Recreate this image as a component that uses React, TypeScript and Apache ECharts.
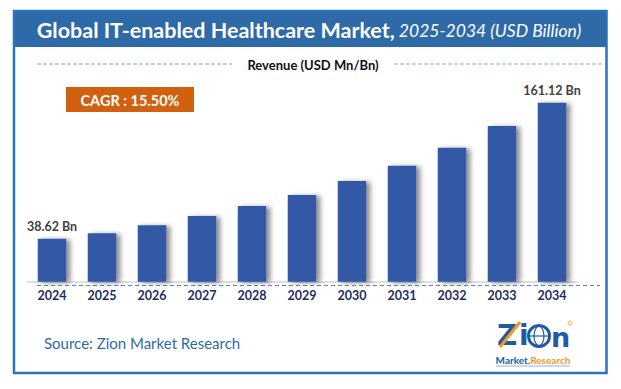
import React, { useEffect, useRef } from "react";
import * as echarts from "echarts";

const years = ["2024", "2025", "2026", "2027", "2028", "2029", "2030", "2031", "2032", "2033", "2034"];
const revenue = [38.62, 43.6, 50.8, 59.2, 68.2, 78.1, 90.7, 104.5, 120.7, 140.3, 161.12];
const labelledIndexes = [0, 10];
const titleMain = "Global IT-enabled Healthcare Market,";
const titleSub = " 2025-2034 (USD Billion)";
const legendText = "Revenue (USD Mn/Bn)";
const cagrText = "CAGR : 15.50%";
const sourceText = "Source: Zion Market Research";

const FONT = "Lato, 'Open Sans', sans-serif";
const LOGO_FONT = "'DejaVu Sans', sans-serif";

export default function App() {
  const ref = useRef<HTMLDivElement>(null);
  useEffect(() => {
    const chart = echarts.init(ref.current!, null, { renderer: "svg" });
    chart.setOption({
      animation: false,
      backgroundColor: "#ffffff",
      grid: { left: 27, width: 550, top: 93, bottom: 107.3, containLabel: false },
      xAxis: {
        type: "category",
        data: years,
        axisLine: { show: true, lineStyle: { color: "#d4d4d4", width: 1.5 } },
        axisTick: { show: false },
        axisLabel: { color: "#1f2d5e", fontWeight: "bold", fontSize: 12.5, fontFamily: FONT, margin: 7 },
      },
      yAxis: { type: "value", min: 0, max: 170, show: false, splitLine: { show: false } },
      series: [
        {
          type: "bar",
          data: revenue.map((v, i) => ({
            value: v,
            label: {
              show: labelledIndexes.includes(i),
              position: "top",
              distance: 6,
              formatter: (p: any) => `${p.value} Bn`,
              color: "#404040",
              fontWeight: "bold",
              fontSize: 12.5,
              fontFamily: FONT,
            },
          })),
          barWidth: 28.5,
          itemStyle: {
            color: "#3358a6",
            shadowColor: "rgba(0,0,0,0.45)",
            shadowBlur: 5,
            shadowOffsetX: 4,
            shadowOffsetY: 1,
          },
        },
      ],
      graphic: [
        { type: "rect", shape: { x: 14, y: 11, width: 592.5, height: 362 }, style: { fill: "none", stroke: "#2e72b8", lineWidth: 2.5 }, z: 10 },
        { type: "rect", shape: { x: 14, y: 11, width: 592.5, height: 36 }, style: { fill: "#2e6aa8" }, z: 9 },
        {
          type: "text",
          x: 309,
          y: 30,
          z: 11,
          style: {
            text: `{b|${titleMain}}{i|${titleSub}}`,
            align: "center",
            verticalAlign: "middle",
            rich: {
              b: { fill: "#ffffff", fontWeight: "bold", fontSize: 21.5, fontFamily: FONT },
              i: { fill: "#ffffff", fontStyle: "italic", fontSize: 17.5, fontFamily: FONT },
            },
          },
        },
        { type: "line", shape: { x1: 37, y1: 64, x2: 232, y2: 64 }, style: { stroke: "#8aa6d6", lineWidth: 1, lineDash: [4, 2] } },
        { type: "line", shape: { x1: 394, y1: 64, x2: 604, y2: 64 }, style: { stroke: "#8aa6d6", lineWidth: 1, lineDash: [4, 2] } },
        {
          type: "text",
          x: 313,
          y: 65,
          style: { text: legendText, align: "center", verticalAlign: "middle", fill: "#111111", fontWeight: "bold", fontSize: 13, fontFamily: FONT },
        },
        { type: "rect", shape: { x: 66, y: 87, width: 128, height: 25 }, style: { fill: "#d2610f" } },
        {
          type: "text",
          x: 130,
          y: 100,
          style: { text: cagrText, align: "center", verticalAlign: "middle", fill: "#ffffff", fontWeight: "bold", fontSize: 14.5, fontFamily: FONT },
        },
        { type: "line", shape: { x1: 37, y1: 285.5, x2: 600, y2: 285.5 }, style: { stroke: "#5b80c8", lineWidth: 1, lineDash: [4, 3] } },
        {
          type: "text",
          x: 44,
          y: 343,
          style: { text: sourceText, align: "left", verticalAlign: "middle", fill: "#2e6aa8", fontSize: 15, fontFamily: FONT },
        },
        // logo
        {
          type: "text",
          x: 497,
          y: 335,
          style: { text: "Z", align: "left", verticalAlign: "middle", fill: "#1e5aa8", fontWeight: 900, fontSize: 28, fontFamily: LOGO_FONT },
        },
        { type: "line", shape: { x1: 500, y1: 347, x2: 520, y2: 322 }, style: { stroke: "#f39a1e", lineWidth: 3 } },
        {
          type: "text",
          x: 519,
          y: 335,
          style: { text: "i", align: "left", verticalAlign: "middle", fill: "#1e5aa8", fontWeight: 900, fontSize: 28, fontFamily: LOGO_FONT },
        },
        { type: "circle", shape: { cx: 539, cy: 336, r: 10.5 }, style: { fill: "#ffffff", stroke: "#1e5aa8", lineWidth: 3 } },
        { type: "ellipse", shape: { cx: 539, cy: 336, rx: 5, ry: 9.5 }, style: { fill: "none", stroke: "#1e5aa8", lineWidth: 1.2 } },
        { type: "line", shape: { x1: 529, y1: 336, x2: 549, y2: 336 }, style: { stroke: "#1e5aa8", lineWidth: 1.2 } },
        {
          type: "text",
          x: 551,
          y: 337,
          style: { text: "n", align: "left", verticalAlign: "middle", fill: "#1e5aa8", fontWeight: 900, fontSize: 27, fontFamily: LOGO_FONT },
        },
        { type: "circle", shape: { cx: 570, cy: 323, r: 2 }, style: { fill: "none", stroke: "#f39a1e", lineWidth: 0.8 } },
        {
          type: "text",
          x: 533,
          y: 360,
          style: {
            text: "{m|Market.}{r|Research}",
            align: "center",
            verticalAlign: "middle",
            rich: {
              m: { fill: "#1e5aa8", fontWeight: "bold", fontSize: 10, fontFamily: FONT },
              r: { fill: "#f39a1e", fontWeight: "bold", fontSize: 10, fontFamily: FONT },
            },
          },
        },
        { type: "line", shape: { x1: 496, y1: 366, x2: 570, y2: 366 }, style: { stroke: "#9ab0d8", lineWidth: 1 } },
      ],
    });
    return () => chart.dispose();
  }, []);
  return <div ref={ref} style={{ position: "absolute", left: 0, top: 0, width: 621, height: 389 }} />;
}
